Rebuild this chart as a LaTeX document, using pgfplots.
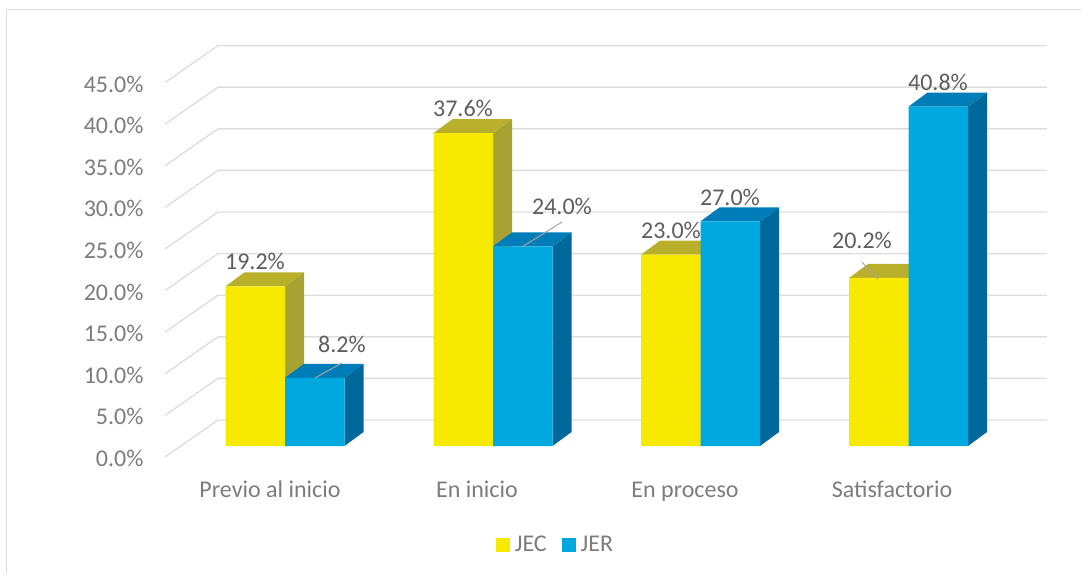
\documentclass[border=0pt]{standalone}
\usepackage{fontspec}
\setmainfont{Carlito}
\usepackage{pgfplots}
\pgfplotsset{compat=1.18}
\definecolor{ycol}{HTML}{F7EA00}
\definecolor{ytop}{HTML}{B8B02A}
\definecolor{yside}{HTML}{A8A232}
\definecolor{bcol}{HTML}{00A8E0}
\definecolor{btop}{HTML}{007DB8}
\definecolor{bside}{HTML}{00689A}
\definecolor{gridc}{HTML}{DEDEDE}
\definecolor{tickc}{HTML}{7C7C7C}
\definecolor{labc}{HTML}{5E5E5E}
\definecolor{framec}{HTML}{DCDCDC}
\definecolor{leadc}{HTML}{A6A6A6}
\newcommand{\lf}{\fontsize{24}{28}\selectfont}
\begin{document}
\begin{tikzpicture}
\begin{axis}[
  scale only axis, width=1082pt, height=575pt,
  xmin=0, xmax=1082, ymin=-15.505, ymax=53.606,
  axis line style={draw=none}, tick style={draw=none}, major tick length=0pt,
  clip=false,
  typeset ticklabels with strut,
  xtick={270,477,685,892},
  xticklabels={Previo al inicio,En inicio,En proceso,Satisfactorio},
  ytick={-1.32,3.68,8.68,13.68,18.68,23.68,28.68,33.68,38.68,43.68},
  yticklabels={0.0\%,5.0\%,10.0\%,15.0\%,20.0\%,25.0\%,30.0\%,35.0\%,40.0\%,45.0\%},
  x tick label style={anchor=center, yshift=83pt, font=\lf, text=tickc},
  y tick label style={anchor=east, xshift=147pt, yshift=-4pt, font=\lf, text=tickc},
  legend style={at={(axis cs:557,-11.85)}, anchor=center, draw=none, fill=none,
    legend columns=2, font=\lf, text=tickc, nodes={inner xsep=5pt},
    /tikz/every even column/.append style={column sep=10pt}},
  legend image code/.code={\fill[#1] (0pt,-7pt) rectangle (14pt,7pt);},
]
% frame
\addplot[draw=framec, line width=0.8pt, forget plot] coordinates {(6,52.5)(1081,52.5)};
\addplot[draw=framec, line width=1.6pt, forget plot] coordinates {(6.5,52.5)(6.5,-15.4)};
% gridlines
\addplot[draw=gridc, line width=1.4pt, forget plot] coordinates {(165,-1.32)(218,3.125)(1047,3.125)};
\addplot[draw=gridc, line width=1.4pt, forget plot] coordinates {(165,3.68)(218,8.125)(1047,8.125)};
\addplot[draw=gridc, line width=1.4pt, forget plot] coordinates {(165,8.68)(218,13.125)(1047,13.125)};
\addplot[draw=gridc, line width=1.4pt, forget plot] coordinates {(165,13.68)(218,18.125)(1047,18.125)};
\addplot[draw=gridc, line width=1.4pt, forget plot] coordinates {(165,18.68)(218,23.125)(1047,23.125)};
\addplot[draw=gridc, line width=1.4pt, forget plot] coordinates {(165,23.68)(218,28.125)(1047,28.125)};
\addplot[draw=gridc, line width=1.4pt, forget plot] coordinates {(165,28.68)(218,33.125)(1047,33.125)};
\addplot[draw=gridc, line width=1.4pt, forget plot] coordinates {(165,33.68)(218,38.125)(1047,38.125)};
\addplot[draw=gridc, line width=1.4pt, forget plot] coordinates {(165,38.68)(218,43.125)(1047,43.125)};
\addplot[draw=gridc, line width=1.4pt, forget plot] coordinates {(165,43.68)(218,48.125)(1047,48.125)};
% side and top faces: JEC
\addplot[fill=yside, draw=none, forget plot] coordinates {(285,0)(304,1.68)(304,20.88)(285,19.2)} -- cycle;
\addplot[fill=ytop, draw=none, forget plot] coordinates {(225.5,19.2)(285,19.2)(304,20.88)(244.5,20.88)} -- cycle;
\addplot[fill=yside, draw=none, forget plot] coordinates {(493,0)(512,1.68)(512,39.28)(493,37.6)} -- cycle;
\addplot[fill=ytop, draw=none, forget plot] coordinates {(433.5,37.6)(493,37.6)(512,39.28)(452.5,39.28)} -- cycle;
\addplot[fill=yside, draw=none, forget plot] coordinates {(700.5,0)(719.5,1.68)(719.5,24.68)(700.5,23)} -- cycle;
\addplot[fill=ytop, draw=none, forget plot] coordinates {(641,23)(700.5,23)(719.5,24.68)(660,24.68)} -- cycle;
\addplot[fill=yside, draw=none, forget plot] coordinates {(908.5,0)(927.5,1.68)(927.5,21.88)(908.5,20.2)} -- cycle;
\addplot[fill=ytop, draw=none, forget plot] coordinates {(849,20.2)(908.5,20.2)(927.5,21.88)(868,21.88)} -- cycle;
% side and top faces: JER
\addplot[fill=bside, draw=none, forget plot] coordinates {(344.5,0)(363.5,1.68)(363.5,9.88)(344.5,8.2)} -- cycle;
\addplot[fill=btop, draw=none, forget plot] coordinates {(285,8.2)(344.5,8.2)(363.5,9.88)(304,9.88)} -- cycle;
\addplot[fill=bside, draw=none, forget plot] coordinates {(552.5,0)(571.5,1.68)(571.5,25.68)(552.5,24)} -- cycle;
\addplot[fill=btop, draw=none, forget plot] coordinates {(493,24)(552.5,24)(571.5,25.68)(512,25.68)} -- cycle;
\addplot[fill=bside, draw=none, forget plot] coordinates {(760,0)(779,1.68)(779,28.68)(760,27)} -- cycle;
\addplot[fill=btop, draw=none, forget plot] coordinates {(700.5,27)(760,27)(779,28.68)(719.5,28.68)} -- cycle;
\addplot[fill=bside, draw=none, forget plot] coordinates {(968,0)(987,1.68)(987,42.48)(968,40.8)} -- cycle;
\addplot[fill=btop, draw=none, forget plot] coordinates {(908.5,40.8)(968,40.8)(987,42.48)(927.5,42.48)} -- cycle;
% front faces
\addplot[ybar, bar width=59.5, bar shift=0pt, fill=ycol, draw=none] coordinates {(255.25,19.2)(463.25,37.6)(670.75,23)(878.75,20.2)};
\addplot[ybar, bar width=59.5, bar shift=0pt, fill=bcol, draw=none] coordinates {(314.75,8.2)(522.75,24)(730.25,27)(938.25,40.8)};
\legend{JEC,JER}
% leader lines
\addplot[draw=leadc, line width=1pt, forget plot] coordinates {(315,8.17)(342,9.98)};
\addplot[draw=leadc, line width=1pt, forget plot] coordinates {(522,23.92)(562,26.92)};
\addplot[draw=leadc, line width=1pt, forget plot] coordinates {(878,20.07)(862,22.1)};
% data labels
\node[text=labc, font=\lf] at (axis cs:255,22.24) {19.2\%};
\node[text=labc, font=\lf] at (axis cs:342,12.26) {8.2\%};
\node[text=labc, font=\lf] at (axis cs:463,40.63) {37.6\%};
\node[text=labc, font=\lf] at (axis cs:562,28.85) {24.0\%};
\node[text=labc, font=\lf] at (axis cs:671,25.96) {23.0\%};
\node[text=labc, font=\lf] at (axis cs:730,29.93) {27.0\%};
\node[text=labc, font=\lf] at (axis cs:862,24.76) {20.2\%};
\node[text=labc, font=\lf] at (axis cs:938,43.75) {40.8\%};
\end{axis}
\end{tikzpicture}
\end{document}
